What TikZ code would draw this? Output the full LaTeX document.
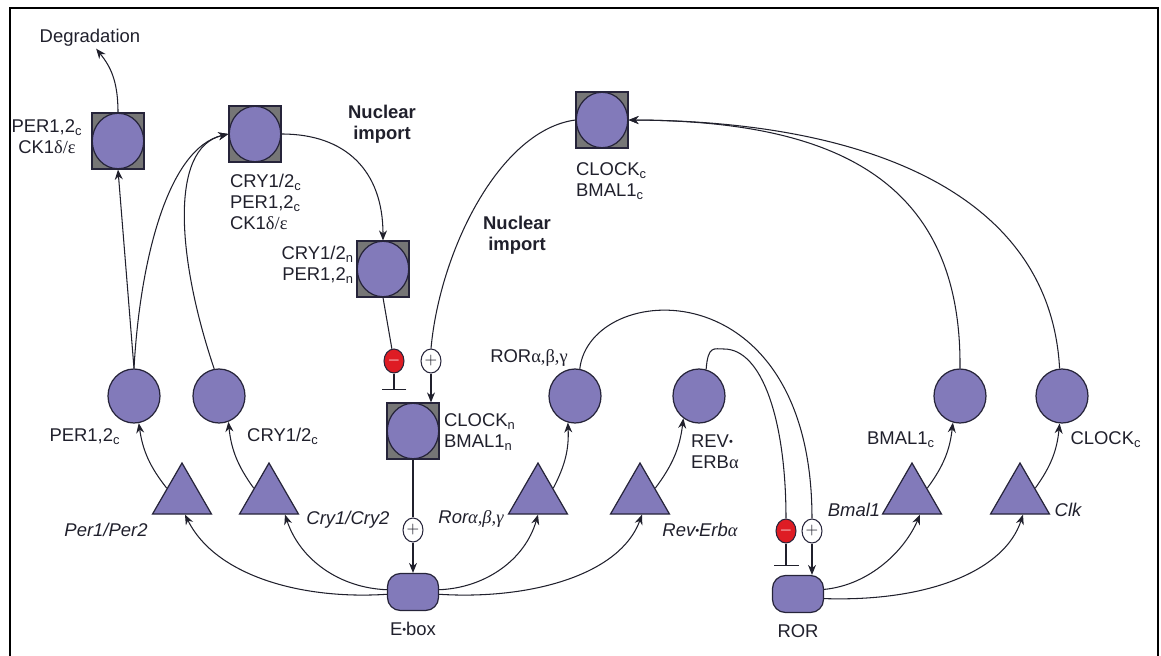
\documentclass[tikz,border=0pt]{standalone}
\usepackage{fontspec}
\setmainfont{Liberation Sans}
\newfontfamily\grk{Liberation Serif}
\usepackage{graphicx}
\usepackage{tikz}
\usetikzlibrary{arrows.meta,shapes.geometric}
\definecolor{ink}{RGB}{32,32,44}
\definecolor{edge}{RGB}{38,36,58}
\definecolor{protfill}{RGB}{130,122,186}
\definecolor{cplxgray}{RGB}{118,118,118}
\definecolor{inhred}{RGB}{222,28,36}
\newcommand{\subc}{\textsubscript{c}}
\newcommand{\subn}{\textsubscript{n}}
\newcommand{\hdot}{\raisebox{0.2ex}{\scalebox{0.6}{\textbullet}}}
\newcommand{\gk}[1]{{\grk #1}}
\tikzset{
  prot/.style={ellipse,draw=edge,fill=protfill,line width=0.7pt,
    minimum width=1.04cm,minimum height=1.08cm,inner sep=0pt},
  cplx/.style={rectangle,draw=edge,fill=cplxgray,line width=0.7pt,
    minimum width=1.04cm,minimum height=1.12cm,inner sep=0pt,
    path picture={\draw[edge,fill=protfill,line width=0.7pt]
      (path picture bounding box.center) ellipse (0.515cm and 0.555cm);}},
  gene/.style={regular polygon,regular polygon sides=3,draw=edge,
    fill=protfill,line width=0.7pt,minimum size=1.36cm,inner sep=0pt},
  elem/.style={rectangle,rounded corners=0.26cm,draw=edge,fill=protfill,
    line width=0.7pt,minimum width=1.02cm,minimum height=0.74cm},
  possign/.style={ellipse,draw=edge,fill=white,line width=0.6pt,
    minimum width=0.4cm,minimum height=0.48cm,inner sep=0pt,
    font=\fontsize{9.5}{9.5}\selectfont},
  negsign/.style={possign,fill=inhred,text=white},
  act/.style={line width=0.6pt,draw=ink,-{Stealth[length=2mm,width=1.6mm]}},
  inhib/.style={line width=0.6pt,draw=ink,-{Bar[width=5mm,line width=0.8pt]}},
  link/.style={line width=0.6pt,draw=ink},
  lab/.style={align=center,inner sep=1pt},
  genelab/.style={inner sep=1pt,font=\fontsize{10.5}{12}\selectfont\itshape}
}
\begin{document}
\begin{tikzpicture}[x=0.02cm,y=-0.02cm,font=\fontsize{10.5}{12}\selectfont,text=ink]
  \useasboundingbox (0,0) rectangle (1161,656);
  \draw[line width=1.3pt] (10,670) -- (10,8) -- (1158,8) -- (1158,670);

  % cytoplasm complexes
  \node[lab] (degr) at (90,38) {Degradation};
  \node[cplx] (pcx) at (118,141) {};
  \node[lab] (pcxlab) at (47,137) {PER1,2\subc\\CK1\gk{δ/ε}};
  \node[cplx] (crycx) at (255,134) {};
  \node[lab,align=left,anchor=north west] (crycxlab) at (228,172)
    {CRY1/2\subc\\PER1,2\subc\\CK1\gk{δ/ε}};
  \node[lab,font=\fontsize{10.5}{12}\selectfont\bfseries] (nimpa) at (382,124) {Nuclear\\import};
  \node[cplx] (cryn) at (383,269) {};
  \node[lab,align=right,anchor=east] (crynlab) at (356,265) {CRY1/2\subn\\PER1,2\subn};
  \node[cplx] (clockcx) at (602,120) {};
  \node[lab,align=left,anchor=west] (clockcxlab) at (574,181) {CLOCK\subc\\BMAL1\subc};
  \node[lab,font=\fontsize{10.5}{12}\selectfont\bfseries] (nimpb) at (517,235) {Nuclear\\import};

  % signs and nuclear complex
  \node[negsign] (minusA) at (394,361) {$\mathbf{-}$};
  \node[possign] (plusA) at (431,361) {$+$};
  \coordinate (barA) at (394,390);
  \node[cplx] (clockn) at (413,431) {};
  \node[lab,align=left,anchor=west] (clocknlab) at (442,432) {CLOCK\subn\\BMAL1\subn};
  \node[possign] (plusB) at (413,530) {$+$};
  \node[elem] (ebox) at (413,592) {};
  \node[lab] (eboxlab) at (413,629) {E\hdot box};

  % proteins
  \node[prot] (perp) at (134,396) {};
  \node[prot] (cryp) at (219,396) {};
  \node[prot] (rorp) at (575,396) {};
  \node[prot] (revp) at (699,396) {};
  \node[prot] (bmalp) at (960,396) {};
  \node[prot] (clkp) at (1062,396) {};
  \node[lab] (perlab) at (85,437) {PER1,2\subc};
  \node[lab] (crylab) at (283,436) {CRY1/2\subc};
  \node[lab] (rorlab) at (529,358) {ROR\gk{α,β,γ}};
  \node[lab,align=left,anchor=west] (revlab) at (689,452) {REV\hdot\\ERB\gk{α}};
  \node[lab] (bmallab) at (901,440) {BMAL1\subc};
  \node[lab] (clocklab) at (1106,440) {CLOCK\subc};

  % genes
  \node[gene] (pertri) at (182,497) {};
  \node[gene] (crytri) at (269,497) {};
  \node[gene] (rortri) at (538,497) {};
  \node[gene] (revtri) at (640,497) {};
  \node[gene] (bmaltri) at (912,497) {};
  \node[gene] (clktri) at (1020,497) {};
  \node[genelab] (perglab) at (106,530) {Per1/Per2};
  \node[genelab] (cryglab) at (348,520) {Cry1/Cry2};
  \node[genelab] (rorglab) at (471,519) {Ror\gk{α,β,γ}};
  \node[genelab] (revglab) at (700,530) {Rev\hdot Erb\gk{α}};
  \node[genelab] (bmalglab) at (854,510) {Bmal1};
  \node[genelab] (clkglab) at (1068,510) {Clk};

  % ROR element
  \node[negsign] (minusB) at (786,531) {$\mathbf{-}$};
  \node[possign] (plusC) at (812,531) {$+$};
  \coordinate (barB) at (786,566);
  \node[elem] (rorel) at (798,594) {};
  \node[lab] (rorellab) at (798,631) {ROR};

  % connectors
  \draw[act] (pcx.north) .. controls (118,80) and (110,66) .. (degr.300);
  \draw[act] (perp.north) -- (pcx.south);
  \draw[act] (perp.north) .. controls (140,260) and (168,148) .. (crycx.west);
  \draw[act] (cryp.100) .. controls (178,262) and (168,148) .. (crycx.west);
  \draw[act] (crycx.east) .. controls (345,134) and (383,170) .. (cryn.north);
  \draw[link] (cryn.south) -- (minusA);
  \draw[inhib] (minusA) -- (barA);
  \draw[link] (clockcx.west) .. controls (500,130) and (440,250) .. (plusA.north);
  \draw[act] (plusA) -- (plusA |- clockn.north);
  \draw[link] (clockn.south) -- (plusB);
  \draw[act] (plusB) -- (ebox);

  \draw[act] (ebox.185) .. controls (300,600) and (215,575) .. ([xshift=0.06cm]pertri.side 2);
  \draw[act] (ebox.175) .. controls (340,588) and (300,560) .. ([xshift=0.32cm]crytri.side 2);
  \draw[act] (ebox.5) .. controls (485,588) and (525,560) .. (rortri.side 2);
  \draw[act] (ebox.-5) .. controls (530,600) and (620,575) .. ([xshift=0.04cm]revtri.side 2);

  \draw[act] (pertri.side 1) to[bend left=15] (perp.-80);
  \draw[act] (crytri.side 1) to[bend left=15] (cryp.-70);
  \draw[act] (rortri.side 3) to[bend right=15] (rorp.-105);
  \draw[act] (revtri.side 3) to[bend right=15] (revp.-125);
  \draw[act] (bmaltri.side 3) to[bend right=15] (bmalp.-105);
  \draw[act] (clktri.side 3) to[bend right=15] (clkp.-95);

  \draw[link] (rorp.80) .. controls (590,280) and (812,265) .. (plusC.north);
  \draw[act] (plusC) -- (plusC |- rorel.north);
  \draw[link] (revp.75) .. controls (708,345) and (714,349) .. (724,349)
    .. controls (762,349) and (786,420) .. (minusB.north);
  \draw[inhib] (minusB) -- (barB);

  \draw[act] (rorel.10) .. controls (870,585) and (905,550) .. ([xshift=0.16cm]bmaltri.side 2);
  \draw[act] (rorel.-10) .. controls (930,602) and (1005,570) .. ([xshift=0.06cm]clktri.side 2);

  \draw[act] (bmalp.north) .. controls (962,170) and (820,121) .. (clockcx.east);
  \draw[act] (clkp.95) .. controls (1050,190) and (860,121) .. (clockcx.east);
\end{tikzpicture}
\end{document}
